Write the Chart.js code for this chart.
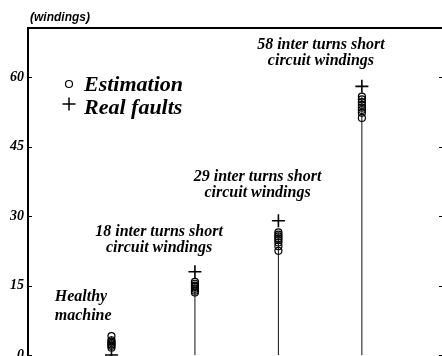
<!DOCTYPE html>
<html>
<head>
<meta charset="utf-8">
<script src="https://cdn.jsdelivr.net/npm/chart.js@4/dist/chart.umd.min.js"></script>
<style>
  html, body { margin: 0; padding: 0; background: #fff; overflow: hidden; }
  #frame { position: relative; width: 442px; height: 356px; }
</style>
</head>
<body>
<div id="frame"><canvas id="faultChart"></canvas></div>
<script>
// x position of each machine state
const columns = [1, 2, 3, 4];
// number of short-circuited windings actually applied
const realFaults = [0, 18, 29, 58];
// estimated windings, one list per machine state
const estHealthy = [4.1, 3.2, 2.9, 2.6, 2.3, 2.0, 1.6];
const est18 = [15.8, 15.4, 15.0, 14.7, 14.3, 13.9, 13.5];
const est29 = [26.5, 26.0, 25.6, 25.2, 24.8, 24.3, 23.5, 22.5];
const est58 = [55.8, 55.2, 54.6, 54.0, 53.4, 52.9, 52.3, 51.2];
const estimates = [estHealthy, est18, est29, est58];

const yTicks = [0, 15, 30, 45, 60];
const axisTitle = '(windings)';
const legendLabels = ['Estimation', 'Real faults'];
const captionLines = [
    ['Healthy', 'machine'],
    ['18 inter turns short', 'circuit windings'],
    ['29 inter turns short', 'circuit windings'],
    ['58 inter turns short', 'circuit windings']
];

// vertical stems from zero up to the highest estimate
const stems = [];
columns.forEach((c, i) => {
    stems.push({ x: c, y: 0 }, { x: c, y: Math.max(...estimates[i]) }, { x: c, y: null });
});
const estPoints = [];
columns.forEach((c, i) => estimates[i].forEach(v => estPoints.push({ x: c, y: v })));
const realPoints = columns.map((c, i) => ({ x: c, y: realFaults[i] }));

const serif = '"Liberation Serif", "Times New Roman", serif';

// caption anchors in data units: [x, baseline y, align, line gap px]
const captionPlaces = [
    [0.32, 11.6, 'left', 19],
    [1.57, 25.8, 'center', 16],
    [2.75, 37.5, 'center', 16],
    [3.51, 66.1, 'center', 16]
];

// no label padding around the plot area
function fixBox(size) {
    return s => {
        if (size.width !== undefined) s.width = size.width;
        if (size.height !== undefined) s.height = size.height;
        s.paddingTop = s.paddingBottom = s.paddingLeft = s.paddingRight = 0;
    };
}

const overlay = {
    id: 'overlay',
    afterDraw(chart) {
        const { ctx, chartArea: area, scales: { x, y } } = chart;
        ctx.save();
        ctx.strokeStyle = '#000';
        ctx.fillStyle = '#000';

        // inward tick marks on both sides
        ctx.lineWidth = 1;
        yTicks.forEach(v => {
            const py = Math.round(y.getPixelForValue(v)) + 0.5;
            ctx.beginPath();
            ctx.moveTo(area.left, py);
            ctx.lineTo(area.left + 4, py);
            ctx.moveTo(area.right - 3, py);
            ctx.lineTo(area.right, py);
            ctx.stroke();
        });

        // unit label above the plot
        ctx.textBaseline = 'alphabetic';
        ctx.textAlign = 'left';
        ctx.font = 'italic bold 12px "Liberation Sans", Arial, sans-serif';
        ctx.fillText(axisTitle, area.left + 2, area.top - 7);

        // legend
        const lx = area.left + 41;
        ctx.lineWidth = 1.2;
        ctx.beginPath();
        ctx.arc(lx, area.top + 56, 3.5, 0, Math.PI * 2);
        ctx.stroke();
        ctx.lineWidth = 1.5;
        ctx.beginPath();
        ctx.moveTo(lx - 6.5, area.top + 76);
        ctx.lineTo(lx + 6.5, area.top + 76);
        ctx.moveTo(lx, area.top + 69.5);
        ctx.lineTo(lx, area.top + 82.5);
        ctx.stroke();
        ctx.font = 'italic bold 22px ' + serif;
        ctx.fillText(legendLabels[0], lx + 15, area.top + 63);
        ctx.fillText(legendLabels[1], lx + 15, area.top + 86);

        // captions for each fault level
        ctx.font = 'italic bold 16px ' + serif;
        captionLines.forEach((lines, i) => {
            const [cx, cy, align, gap] = captionPlaces[i];
            ctx.textAlign = align;
            const px = x.getPixelForValue(cx);
            const py = y.getPixelForValue(cy);
            lines.forEach((t, j) => ctx.fillText(t, px, py + j * gap));
        });
        ctx.restore();
    }
};

new Chart(document.getElementById('faultChart'), {
    type: 'scatter',
    data: {
        datasets: [
            {
                label: 'stems',
                data: stems,
                showLine: true,
                spanGaps: false,
                borderColor: '#111',
                borderWidth: 1,
                pointRadius: 0
            },
            {
                label: legendLabels[0],
                data: estPoints,
                pointStyle: 'circle',
                pointRadius: 3.5,
                borderColor: '#000',
                backgroundColor: 'rgba(0,0,0,0)',
                borderWidth: 1.2
            },
            {
                label: legendLabels[1],
                data: realPoints,
                pointStyle: 'cross',
                pointRadius: 6.5,
                borderColor: '#000',
                borderWidth: 1.6
            }
        ]
    },
    options: {
        responsive: true,
        maintainAspectRatio: false,
        animation: false,
        devicePixelRatio: 1,
        layout: { autoPadding: false, padding: { top: 28, right: 0, left: 0, bottom: 0 } },
        plugins: {
            legend: { display: false },
            tooltip: { enabled: false }
        },
        scales: {
            x: {
                type: 'linear',
                position: 'top',
                min: 0,
                max: 4.96,
                grid: { display: false, drawTicks: false, tickLength: 0 },
                ticks: { display: false },
                border: { display: true, width: 2, color: '#000' },
                afterFit: fixBox({ height: 0 })
            },
            y: {
                min: -0.2,
                max: 70.6,
                grid: { display: false, drawTicks: false, tickLength: 0 },
                border: { display: true, width: 2, color: '#000' },
                afterBuildTicks: s => { s.ticks = yTicks.map(v => ({ value: v })); },
                ticks: {
                    padding: 4,
                    color: '#000',
                    font: { family: serif, size: 14, style: 'italic', weight: 'bold' }
                },
                afterFit: fixBox({ width: 28 })
            }
        }
    },
    plugins: [overlay]
});
</script>
</body>
</html>
